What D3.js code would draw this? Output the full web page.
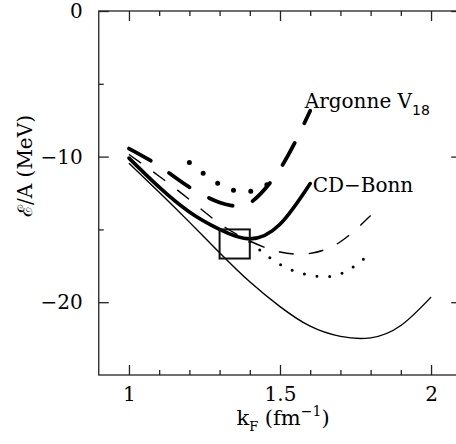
<!DOCTYPE html>
<html>
<head>
<meta charset="utf-8">
<script src="https://cdn.jsdelivr.net/npm/d3@7"></script>
<style>
  html, body { margin: 0; padding: 0; background: #fff; }
  svg { display: block; }
  text { font-family: "DejaVu Serif", "Liberation Serif", serif; fill: #000; }
</style>
</head>
<body>
<svg id="chart" width="456" height="444"></svg>
<script>
// Binding energy per nucleon vs Fermi momentum
const xTicksMajor = [1, 1.5, 2];
const xTickLabels = ["1", "1.5", "2"];
const xTicksMinor = [1.1, 1.2, 1.3, 1.4, 1.6, 1.7, 1.8, 1.9];
const yTicksMajor = [0, -10, -20];
const yTickLabels = ["0", "\u221210", "\u221220"];
const yTicksMinor = [-5, -15];

// thin solid
const thinSolidK = [1.0, 1.1, 1.2, 1.3, 1.4, 1.5, 1.6, 1.7, 1.8, 1.9, 2.0];
const thinSolidE = [-10.45, -12.45, -14.5, -16.6, -18.6, -20.3, -21.65, -22.35, -22.45, -21.6, -19.65];

// CD-Bonn (thick solid)
const cdBonnK = [1.0, 1.1, 1.2, 1.3, 1.4, 1.5, 1.6];
const cdBonnE = [-10.1, -12.1, -13.8, -15.0, -15.65, -14.65, -11.85];

// thin dashed
const thinDashK = [1.0, 1.1, 1.2, 1.3, 1.4, 1.5, 1.6, 1.7, 1.8];
const thinDashE = [-9.85, -11.35, -12.95, -14.6, -15.8, -16.55, -16.65, -15.85, -14.05];

// thin dotted
const thinDotK = [1.4, 1.5, 1.6, 1.7, 1.8];
const thinDotE = [-15.85, -17.4, -18.15, -18.05, -16.65];

// Argonne V18 (thick dashed)
const argonneK = [1.0, 1.1, 1.2, 1.3, 1.35, 1.4, 1.5, 1.6];
const argonneE = [-9.45, -10.65, -12.1, -13.15, -13.4, -13.2, -10.85, -6.85];

// thick dotted
const thickDotK = [1.2, 1.3, 1.4, 1.5];
const thickDotE = [-10.4, -11.9, -12.4, -11.35];

// empirical saturation box
const boxK = [1.3, 1.4];
const boxE = [-15, -17];

const svg = d3.select("#chart");
const x = d3.scaleLinear().domain([0.9, 2.1]).range([98.75, 461.25]);
const y = d3.scaleLinear().domain([-25, 0]).range([375, 11]);

const x0 = x(0.9), x1 = x(2.1), y0 = y(-25), y1 = y(0);

// frame
svg.append("rect")
  .attr("x", x0).attr("y", y1)
  .attr("width", x1 - x0).attr("height", y0 - y1)
  .attr("fill", "none").attr("stroke", "#222").attr("stroke-width", 1.3);

function styleAxis(g) {
  g.select(".domain").remove();
  g.selectAll(".tick line").attr("stroke", "#222").attr("stroke-width", 1.3);
  g.selectAll("text")
    .style("font-family", '"DejaVu Serif", serif')
    .style("font-size", "20px")
    .attr("fill", "#000");
}

// bottom axis
svg.append("g").attr("transform", `translate(0,${y0})`)
  .call(d3.axisBottom(x).tickValues(xTicksMajor).tickSize(-10).tickPadding(12)
    .tickFormat((d, i) => xTickLabels[i]))
  .call(styleAxis);
svg.append("g").attr("transform", `translate(0,${y0})`)
  .call(d3.axisBottom(x).tickValues(xTicksMinor).tickSize(-5).tickFormat(""))
  .call(styleAxis);
// top axis
svg.append("g").attr("transform", `translate(0,${y1})`)
  .call(d3.axisTop(x).tickValues(xTicksMajor).tickSize(-10).tickFormat(""))
  .call(styleAxis);
svg.append("g").attr("transform", `translate(0,${y1})`)
  .call(d3.axisTop(x).tickValues(xTicksMinor).tickSize(-5).tickFormat(""))
  .call(styleAxis);
// left axis
svg.append("g").attr("transform", `translate(${x0},0)`)
  .call(d3.axisLeft(y).tickValues(yTicksMajor).tickSize(-10).tickPadding(16)
    .tickFormat((d, i) => yTickLabels[i]))
  .call(styleAxis);
svg.append("g").attr("transform", `translate(${x0},0)`)
  .call(d3.axisLeft(y).tickValues(yTicksMinor).tickSize(-5).tickFormat(""))
  .call(styleAxis);
// right axis
svg.append("g").attr("transform", `translate(${x1},0)`)
  .call(d3.axisRight(y).tickValues(yTicksMajor).tickSize(-10).tickFormat(""))
  .call(styleAxis);
svg.append("g").attr("transform", `translate(${x1},0)`)
  .call(d3.axisRight(y).tickValues(yTicksMinor).tickSize(-5).tickFormat(""))
  .call(styleAxis);

// curves
const line = d3.line()
  .x(d => x(d[0])).y(d => y(d[1]))
  .curve(d3.curveNatural);

const zip = (a, b) => a.map((v, i) => [v, b[i]]);

const series = [
  { k: thinSolidK, e: thinSolidE, w: 1.4, dash: null, cap: "butt" },
  { k: thinDashK, e: thinDashE, w: 1.4, dash: "15,15", cap: "butt" },
  { k: thinDotK, e: thinDotE, w: 3, dash: "0,12.8", cap: "round" },
  { k: cdBonnK, e: cdBonnE, w: 3.6, dash: null, cap: "round" },
  { k: argonneK, e: argonneE, w: 3.8, dash: "25,22", cap: "round" },
  { k: thickDotK, e: thickDotE, w: 5, dash: "0,17.5", cap: "round" }
];

series.forEach(s => {
  svg.append("path")
    .datum(zip(s.k, s.e))
    .attr("d", line)
    .attr("fill", "none")
    .attr("stroke", "#000")
    .attr("stroke-width", s.w)
    .attr("stroke-linecap", s.cap)
    .attr("stroke-dasharray", s.dash);
});

// saturation box
svg.append("rect")
  .attr("x", x(boxK[0])).attr("y", y(boxE[0]))
  .attr("width", x(boxK[1]) - x(boxK[0]))
  .attr("height", y(boxE[1]) - y(boxE[0]))
  .attr("fill", "none").attr("stroke", "#111").attr("stroke-width", 2);

// curve labels
const argLabel = svg.append("text")
  .attr("x", x(1.582)).attr("y", y(-6.65))
  .style("font-size", "20px");
argLabel.append("tspan").text("Argonne V");
argLabel.append("tspan").attr("dy", 7).style("font-size", "14px")
  .style("font-family", '"DejaVu Sans", sans-serif').text("18");

svg.append("text")
  .attr("x", x(1.608)).attr("y", y(-12.46))
  .style("font-size", "20px")
  .text("CD\u2212Bonn");

// axis titles
const xt = svg.append("text")
  .attr("x", 283).attr("y", 425)
  .attr("text-anchor", "middle")
  .style("font-size", "21px");
xt.append("tspan").text("k");
xt.append("tspan").attr("dy", 6).style("font-size", "13px").text("F");
xt.append("tspan").attr("dy", -6).text(" (fm");
xt.append("tspan").attr("dy", -9).style("font-size", "14px").text("\u22121");
xt.append("tspan").attr("dy", 9).text(")");

svg.append("text")
  .attr("transform", "translate(32,166) rotate(-90)")
  .attr("text-anchor", "middle")
  .style("font-size", "20px")
  .text("\u2130/A (MeV)");
</script>
</body>
</html>
